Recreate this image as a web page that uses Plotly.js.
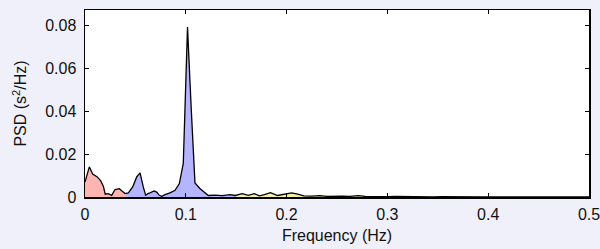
<!DOCTYPE html>
<html>
<head>
<meta charset="utf-8">
<script src="https://cdn.plot.ly/plotly-3.0.1.min.js"></script>
<style>
html,body{margin:0;padding:0;background:#f0f0fa;}
#chart{width:600px;height:249px;}
</style>
</head>
<body>
<div id="chart"></div>
<script>
// Frequency (Hz) and power spectral density (s^2/Hz)
var freq = [0.0000, 0.0043, 0.0076, 0.0122, 0.0156, 0.0182, 0.0201, 0.0231, 0.0265, 0.0298,
            0.0340, 0.0374, 0.0397, 0.0430, 0.0473, 0.0513, 0.0546, 0.0578, 0.0602, 0.0628,
            0.0645, 0.0685, 0.0711, 0.0737, 0.0761, 0.0794, 0.0843, 0.0893, 0.0936, 0.0975,
            0.1017, 0.1052, 0.1091, 0.1140, 0.1190, 0.1223, 0.1290, 0.1360, 0.1440, 0.1490,
            0.1560, 0.1620, 0.1680, 0.1730, 0.1780, 0.1840, 0.1910, 0.1980, 0.2050, 0.2110,
            0.2170, 0.2250, 0.2330, 0.2400, 0.2480, 0.2550, 0.2630, 0.2710, 0.2780, 0.2850,
            0.2920, 0.3000, 0.3080, 0.3160, 0.3250, 0.3350, 0.3450, 0.3550, 0.3650, 0.3750,
            0.3850, 0.3950, 0.4050, 0.4150, 0.4250, 0.4350, 0.4450, 0.4550, 0.4650, 0.4750,
            0.4850, 0.5000];
var psd  = [0.0070, 0.0141, 0.0107, 0.0094, 0.0075, 0.0050, 0.0013, 0.0016, 0.0008, 0.0035,
            0.0039, 0.0023, 0.0016, 0.0019, 0.0047, 0.0094, 0.0113, 0.0047, 0.0008, 0.0017,
            0.0019, 0.0028, 0.0023, 0.0008, 0.0003, 0.0011, 0.0019, 0.0031, 0.0063, 0.0157,
            0.0794, 0.0430, 0.0066, 0.0040, 0.0018, 0.0007, 0.0009, 0.0006, 0.0011, 0.0007,
            0.0016, 0.0008, 0.0016, 0.0005, 0.0011, 0.0020, 0.0007, 0.0012, 0.0019, 0.0013,
            0.0005, 0.0004, 0.0006, 0.0003, 0.0005, 0.0004, 0.0003, 0.0006, 0.0003, 0.0002,
            0.0004, 0.0002, 0.0003, 0.0002, 0.0004, 0.0002, 0.0001, 0.0002, 0.0001, 0.0001,
            0.0001, 0.0001, 0.0001, 0.0001, 0.0000, 0.0001, 0.0000, 0.0000, 0.0000, 0.0000,
            0.0000, 0.0000];
// Frequency bands: VLF, LF, HF
var bandNames  = ["VLF", "LF", "HF"];
var bandLow    = [0.00, 0.04, 0.15];
var bandHigh   = [0.04, 0.15, 0.40];
var bandColors = ["#ffb4b4", "#b4b4ff", "#f4f0a8"];

function interp(f) {
  for (var i = 0; i < freq.length - 1; i++) {
    if (f >= freq[i] && f <= freq[i + 1]) {
      var t = (f - freq[i]) / (freq[i + 1] - freq[i]);
      return psd[i] + t * (psd[i + 1] - psd[i]);
    }
  }
  return psd[psd.length - 1];
}

var traces = [];
for (var b = 0; b < bandNames.length; b++) {
  var xs = [bandLow[b]], ys = [interp(bandLow[b])];
  for (var i = 0; i < freq.length; i++) {
    if (freq[i] > bandLow[b] && freq[i] < bandHigh[b]) { xs.push(freq[i]); ys.push(psd[i]); }
  }
  xs.push(bandHigh[b]); ys.push(interp(bandHigh[b]));
  traces.push({
    x: xs, y: ys, type: "scatter", mode: "lines", name: bandNames[b],
    fill: "tozeroy", fillcolor: bandColors[b], line: {width: 0, color: bandColors[b]},
    hoverinfo: "skip", showlegend: false
  });
}
traces.push({
  x: freq, y: psd, type: "scatter", mode: "lines", name: "PSD",
  line: {color: "#000000", width: 1.3}, showlegend: false
});

var font = {family: "Liberation Sans, Arial, Helvetica, sans-serif", size: 16, color: "#111"};
var layout = {
  width: 600, height: 249,
  margin: {l: 85, r: 11, t: 10, b: 52},
  paper_bgcolor: "#f0f0fa",
  plot_bgcolor: "#ffffff",
  font: font,
  showlegend: false,
  xaxis: {
    range: [0, 0.5], tickvals: [0, 0.1, 0.2, 0.3, 0.4, 0.5],
    ticktext: ["0", "0.1", "0.2", "0.3", "0.4", "0.5"],
    ticks: "inside", ticklen: 4, tickcolor: "#000", tickwidth: 1,
    showline: true, linecolor: "#000", linewidth: 1.5, mirror: "ticks",
    showgrid: false, zeroline: false,
    ticklabelstandoff: 2, ticklabeloverflow: "allow",
    title: {text: "Frequency (Hz)", font: font, standoff: 8},
    tickfont: font
  },
  yaxis: {
    range: [0, 0.0874], tickvals: [0, 0.02, 0.04, 0.06, 0.08],
    ticktext: ["0", "0.02", "0.04", "0.06", "0.08"],
    ticks: "inside", ticklen: 4, tickcolor: "#000", tickwidth: 1,
    showline: true, linecolor: "#000", linewidth: 1.5, mirror: "ticks",
    showgrid: false, zeroline: false,
    ticklabelstandoff: 4,
    title: {text: "PSD (s<sup>2</sup>/Hz)", font: font, standoff: 14},
    tickfont: font
  }
};
Plotly.newPlot("chart", traces, layout, {displayModeBar: false, staticPlot: true});
</script>
</body>
</html>
